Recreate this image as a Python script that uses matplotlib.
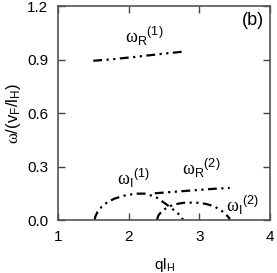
import matplotlib
matplotlib.use('Agg')
from matplotlib import pyplot as plt

plt.rcParams['font.family'] = ['Liberation Sans', 'DejaVu Sans']
plt.rcParams['mathtext.fontset'] = 'custom'
plt.rcParams['mathtext.rm'] = 'Liberation Serif'
plt.rcParams['mathtext.sf'] = 'Liberation Sans'
plt.rcParams['mathtext.it'] = 'Liberation Sans:italic'

# omega_R^(1)
q_r1 = [1.50, 1.70, 1.90, 2.10, 2.30, 2.50, 2.77]
w_r1 = [0.893, 0.899, 0.907, 0.915, 0.924, 0.933, 0.944]

# omega_I^(1)
q_i1 = [1.52, 1.53, 1.56, 1.62, 1.70, 1.80, 1.95, 2.10, 2.25, 2.40, 2.52, 2.62, 2.70, 2.75, 2.77]
w_i1 = [0.0, 0.02, 0.045, 0.075, 0.10, 0.12, 0.138, 0.148, 0.148, 0.125, 0.092, 0.062, 0.036, 0.015, 0.0]

# omega_R^(2)
q_r2 = [2.37, 2.60, 2.80, 3.00, 3.20, 3.43]
w_r2 = [0.15, 0.157, 0.163, 0.169, 0.175, 0.18]

# omega_I^(2)
q_i2 = [2.40, 2.42, 2.47, 2.55, 2.65, 2.78, 2.95, 3.10, 3.22, 3.32, 3.38, 3.42, 3.43]
w_i2 = [0.0, 0.025, 0.05, 0.072, 0.088, 0.097, 0.098, 0.09, 0.075, 0.05, 0.03, 0.012, 0.0]

labels = [r'$\mathrm{\omega}_\mathsf{R}{}^\mathsf{(1)}$', r'$\mathrm{\omega}_\mathsf{I}{}^\mathsf{(1)}$',
          r'$\mathrm{\omega}_\mathsf{R}{}^\mathsf{(2)}$', r'$\mathrm{\omega}_\mathsf{I}{}^\mathsf{(2)}$']
label_q = [1.95, 1.835, 2.75, 3.376]
label_w = [0.993, 0.196, 0.252, 0.045]

ls = (0, (4, 2, 1, 2, 1, 2))

fig = plt.figure(figsize=(2.77, 2.73), dpi=100)
ax = fig.add_axes([0.209, 0.194, 0.766, 0.784])

for q, w in [(q_r1, w_r1), (q_i1, w_i1), (q_r2, w_r2), (q_i2, w_i2)]:
    ax.plot(q, w, color='black', linestyle=ls, linewidth=1.6)

for s, q, w in zip(labels, label_q, label_w):
    ax.text(q, w, s, fontsize=13)

ax.text(3.92, 1.12, '(b)', fontsize=13, ha='right', va='center')

ax.set_xlim(1, 4)
ax.set_ylim(0, 1.2)
ax.set_xticks([1, 2, 3, 4])
ax.set_yticks([0.0, 0.3, 0.6, 0.9, 1.2])
ax.set_yticklabels(['0.0', '0.3', '0.6', '0.9', '1.2'])
ax.tick_params(direction='in', top=True, right=True, length=5, width=1,
               labelsize=11, color='#444444', pad=7)
for sp in ax.spines.values():
    sp.set_color('#555555')
    sp.set_linewidth(1.2)

ax.set_xlabel(r'ql$_\mathsf{H}$', fontsize=11, labelpad=9)
ax.set_ylabel(r'$\mathrm{\omega}$/(v$_\mathsf{F}$/l$_\mathsf{H}$)', fontsize=12, labelpad=3)

fig.savefig('out.png', dpi=100)
